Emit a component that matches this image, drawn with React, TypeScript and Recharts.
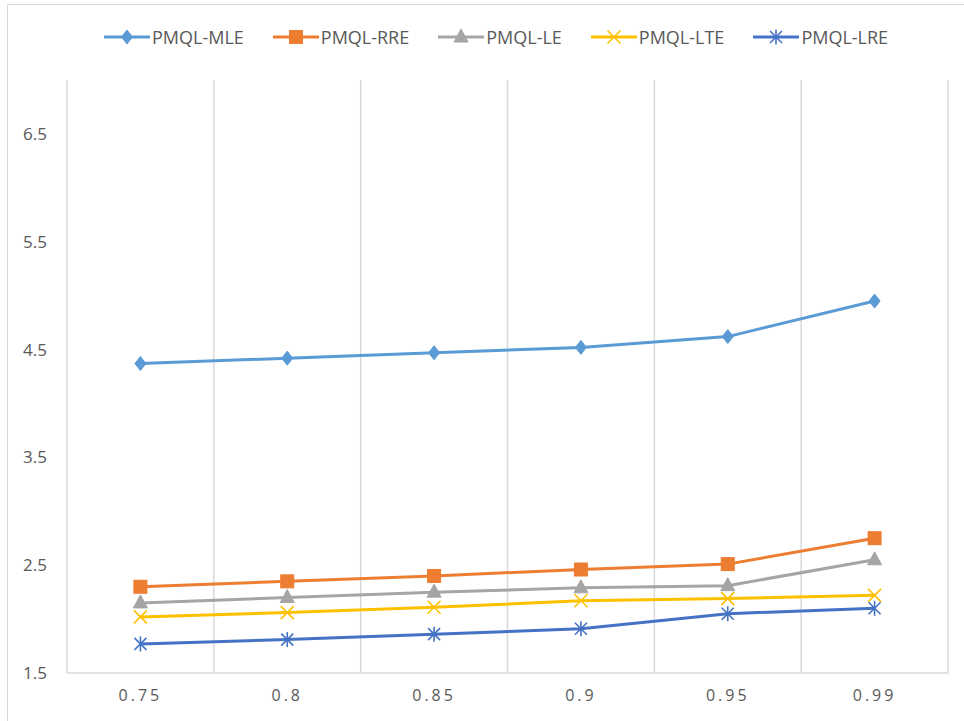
import React from "react";
import { LineChart, Line, XAxis, YAxis, ReferenceLine, Legend } from "recharts";

// Confidence thresholds along the category axis
const thresholds = ["0.75", "0.8", "0.85", "0.9", "0.95", "0.99"];

// Series values per threshold
const pmqlMLE = [4.37, 4.42, 4.47, 4.52, 4.62, 4.95];
const pmqlRRE = [2.3, 2.35, 2.4, 2.46, 2.51, 2.75];
const pmqlLE = [2.15, 2.2, 2.25, 2.29, 2.31, 2.55];
const pmqlLTE = [2.02, 2.06, 2.11, 2.17, 2.19, 2.22];
const pmqlLRE = [1.77, 1.81, 1.86, 1.91, 2.05, 2.1];

const yTicks = [1.5, 2.5, 3.5, 4.5, 5.5, 6.5];

type MarkerKind = "diamond" | "square" | "triangle" | "x" | "star";

const seriesDefs: { key: string; name: string; color: string; marker: MarkerKind; values: number[] }[] = [
  { key: "mle", name: "PMQL-MLE", color: "#5B9BD5", marker: "diamond", values: pmqlMLE },
  { key: "rre", name: "PMQL-RRE", color: "#ED7D31", marker: "square", values: pmqlRRE },
  { key: "le", name: "PMQL-LE", color: "#A5A5A5", marker: "triangle", values: pmqlLE },
  { key: "lte", name: "PMQL-LTE", color: "#FFC000", marker: "x", values: pmqlLTE },
  { key: "lre", name: "PMQL-LRE", color: "#4472C4", marker: "star", values: pmqlLRE },
];

const data = thresholds.map((label, i) => {
  const row: Record<string, number | string> = { idx: i, label };
  seriesDefs.forEach((s) => {
    row[s.key] = s.values[i];
  });
  return row;
});

// Boundaries between categories, where the vertical gridlines sit
const boundaries = thresholds.map((_, i) => i + 0.5);

const FONT = "'Open Sans', sans-serif";
const TEXT = "#595959";
const GRID = "#D9D9D9";

function MarkerShape({ kind, cx, cy, color }: { kind: MarkerKind; cx: number; cy: number; color: string }) {
  switch (kind) {
    case "diamond":
      return (
        <polygon
          points={`${cx},${cy - 7} ${cx + 5.5},${cy} ${cx},${cy + 7} ${cx - 5.5},${cy}`}
          fill={color}
          stroke={color}
          strokeWidth={1}
        />
      );
    case "square":
      return <rect x={cx - 6.5} y={cy - 6.5} width={13} height={13} fill={color} stroke={color} strokeWidth={1} />;
    case "triangle":
      return (
        <polygon
          points={`${cx},${cy - 8} ${cx + 7},${cy + 5} ${cx - 7},${cy + 5}`}
          fill={color}
          stroke={color}
          strokeWidth={1}
        />
      );
    case "x":
      return (
        <g stroke={color} strokeWidth={1.6}>
          <line x1={cx - 6.5} y1={cy - 6.5} x2={cx + 6.5} y2={cy + 6.5} />
          <line x1={cx - 6.5} y1={cy + 6.5} x2={cx + 6.5} y2={cy - 6.5} />
        </g>
      );
    case "star":
      return (
        <g stroke={color} strokeWidth={1.6}>
          <line x1={cx - 6} y1={cy - 6} x2={cx + 6} y2={cy + 6} />
          <line x1={cx - 6} y1={cy + 6} x2={cx + 6} y2={cy - 6} />
          <line x1={cx} y1={cy - 7.5} x2={cx} y2={cy + 7.5} />
        </g>
      );
  }
  return null;
}

function makeDot(kind: MarkerKind, color: string) {
  return (props: any) => {
    const { cx, cy, index } = props;
    if (cx == null || cy == null) return <g key={`d-${index}`} />;
    return (
      <g key={`d-${kind}-${index}`}>
        <MarkerShape kind={kind} cx={cx} cy={cy} color={color} />
      </g>
    );
  };
}

function LegendContent() {
  return (
    <div
      style={{
        display: "flex",
        alignItems: "center",
        paddingLeft: 104,
        height: 24,
        fontFamily: FONT,
        fontSize: 18,
        color: TEXT,
      }}
    >
      {seriesDefs.map((s) => (
        <div key={s.key} style={{ display: "flex", alignItems: "center", marginRight: 29 }}>
          <svg width={46} height={20} style={{ display: "block" }}>
            <line x1={0} y1={10} x2={46} y2={10} stroke={s.color} strokeWidth={3} />
            <MarkerShape kind={s.marker} cx={23} cy={10} color={s.color} />
          </svg>
          <span style={{ marginLeft: 2, whiteSpace: "nowrap", lineHeight: "24px" }}>{s.name}</span>
        </div>
      ))}
    </div>
  );
}

export default function App() {
  return (
    <div style={{ position: "absolute", left: 0, top: 0, width: 964, height: 721, background: "#fff" }}>
      <div
        style={{
          position: "absolute",
          left: 7,
          top: 4,
          width: 957,
          height: 717,
          borderLeft: `1px solid ${GRID}`,
          borderTop: `1px solid ${GRID}`,
          boxSizing: "border-box",
        }}
      />
      <LineChart
        width={964}
        height={721}
        data={data}
        margin={{ top: 56, right: 16, bottom: 8, left: 0 }}
        style={{ position: "absolute", left: 0, top: 0 }}
      >
        <Legend
          verticalAlign="top"
          align="left"
          content={() => <LegendContent />}
          wrapperStyle={{ top: 25, left: 0, width: 964 }}
        />
        <XAxis
          dataKey="idx"
          type="number"
          domain={[-0.5, 5.5]}
          ticks={[0, 1, 2, 3, 4, 5]}
          tickFormatter={(v: number) => thresholds[v]}
          allowDataOverflow
          height={40}
          axisLine={{ stroke: GRID, strokeWidth: 1.5 }}
          tickLine={false}
          tickSize={0}
          tickMargin={17}
          tick={{ fill: TEXT, fontSize: 16, fontFamily: FONT, letterSpacing: 3 }}
        />
        <YAxis
          type="number"
          domain={[1.5, 7]}
          ticks={yTicks}
          allowDataOverflow
          width={67}
          axisLine={{ stroke: GRID, strokeWidth: 1.5 }}
          tickLine={false}
          tickSize={0}
          tickMargin={20}
          tickFormatter={(v: number) => v.toFixed(1)}
          tick={{ fill: TEXT, fontSize: 17, fontFamily: FONT }}
        />
        {boundaries.map((b) => (
          <ReferenceLine key={b} x={b} stroke={GRID} strokeWidth={1.5} ifOverflow="extendDomain" />
        ))}
        {seriesDefs.map((s) => (
          <Line
            key={s.key}
            dataKey={s.key}
            name={s.name}
            type="linear"
            stroke={s.color}
            strokeWidth={3}
            dot={makeDot(s.marker, s.color)}
            activeDot={false}
            isAnimationActive={false}
          />
        ))}
      </LineChart>
    </div>
  );
}
